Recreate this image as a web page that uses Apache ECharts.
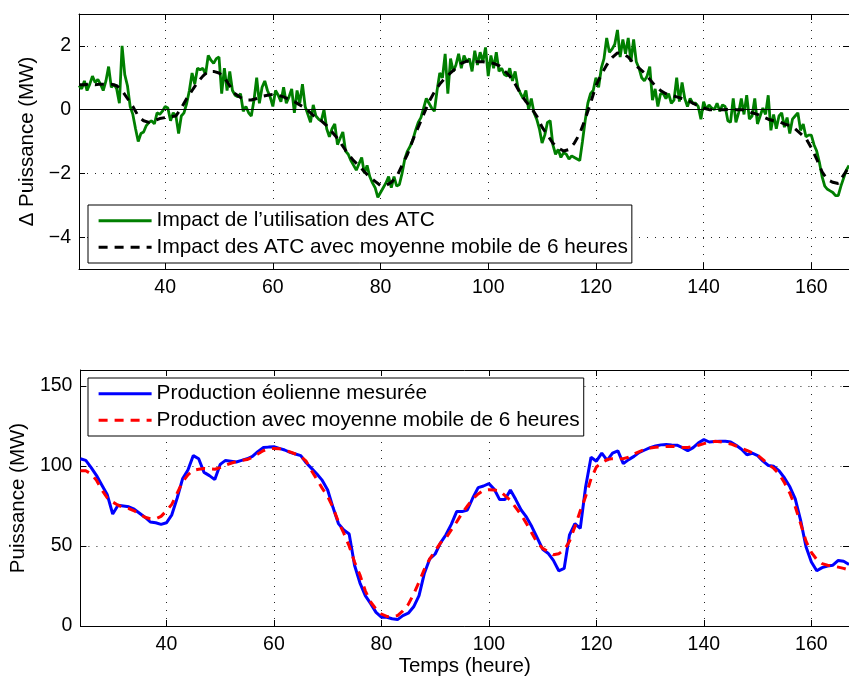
<!DOCTYPE html>
<html>
<head>
<meta charset="utf-8">
<script src="https://cdn.jsdelivr.net/npm/echarts@6/dist/echarts.min.js"></script>
<style>
html, body { margin: 0; padding: 0; background: #fff; }
#charts { width: 849px; height: 679px; }
</style>
</head>
<body>
<div id="charts"></div>
<script>
// heures de départ, pas des séries
var hourStart = 24;
var xTicks = [40, 60, 80, 100, 120, 140, 160];
var deltaTicks = [-4, -2, 0, 2];
var powerTicks = [0, 50, 100, 150];

// Impact de l'utilisation des ATC (MW), une valeur par demi-heure depuis 24 h
var impactATC = [
  0.75,0.65,0.9,0.6,0.8,1.05,0.85,0.95,0.8,0.6,
  0.9,1.35,0.7,0.8,0.65,0.2,2.0,1.1,0.75,0.1,
  -0.15,-0.6,-1.0,-0.75,-0.7,-0.5,-0.4,-0.35,-0.45,-0.1,
  -0.15,-0.05,0.1,0.05,-0.35,-0.1,-0.2,-0.75,-0.2,-0.1,
  0.2,0.6,1.15,0.8,1.3,1.25,1.3,1.1,1.7,1.55,
  1.45,1.6,1.65,0.5,1.3,0.6,1.2,0.6,0.45,0.4,
  0.5,-0.05,0.1,-0.1,-0.2,0.3,1.0,0.2,0.7,0.9,
  0.6,0.4,0.1,0.6,0.45,0.25,0.7,0.2,0.4,0.65,
  -0.1,0.6,0.2,0.8,0.1,-0.15,-0.4,0.15,-0.2,-0.3,
  -0.35,0.0,-0.6,-0.85,-0.6,-0.45,-1.1,-0.9,-0.7,-1.3,
  -1.4,-1.6,-1.75,-1.9,-1.7,-1.5,-2.0,-1.75,-2.1,-2.3,
  -2.45,-2.75,-2.6,-2.45,-2.3,-2.1,-2.45,-2.1,-2.4,-2.35,
  -2.0,-1.55,-1.3,-1.15,-0.95,-0.65,-0.4,-0.25,0.05,0.35,
  0.2,0.05,-0.05,0.6,1.15,1.0,1.75,0.5,1.6,1.2,
  1.4,1.75,1.3,1.7,1.5,1.6,1.2,1.85,1.4,1.8,
  1.5,1.95,1.05,1.7,1.3,1.8,1.2,1.3,1.1,1.05,
  1.3,0.9,1.2,0.7,0.5,0.35,0.6,0.0,0.35,-0.1,
  -0.3,-0.6,-1.05,-0.8,-0.4,-0.35,-1.1,-1.4,-1.25,-1.5,
  -1.35,-1.4,-1.55,-1.45,-1.5,-1.55,-1.6,-1.0,-0.35,0.2,
  0.5,0.6,1.0,0.7,1.3,1.6,2.25,1.8,1.9,2.05,
  2.5,1.65,2.2,1.75,2.25,1.5,2.2,1.5,1.3,1.0,
  0.9,1.05,1.35,0.3,0.65,0.1,0.5,0.5,0.35,0.5,
  0.2,0.3,1.0,0.25,0.85,0.35,0.1,0.35,0.2,0.2,
  0.1,-0.3,0.25,0.0,0.15,0.05,0.0,0.2,-0.05,0.15,
  0.1,-0.35,-0.4,0.35,-0.4,-0.1,0.35,-0.15,0.45,-0.3,
  -0.2,0.35,-0.45,-0.2,0.05,-0.15,0.45,-0.65,-0.15,-0.6,
  -0.2,-0.1,-0.55,-0.25,-0.75,-0.3,-0.2,-0.1,-0.65,-0.45,
  -0.85,-0.8,-0.8,-1.1,-1.3,-1.65,-2.1,-2.4,-2.5,-2.55,
  -2.6,-2.7,-2.7,-2.4,-2.15,-1.9,-1.75
];

// Impact des ATC, moyenne mobile 6 h (une valeur par heure)
var impactATCMoy = [
  0.78,0.78,0.8,0.78,0.8,0.8,0.8,0.75,0.6,0.35,
  0.1,-0.2,-0.35,-0.4,-0.35,-0.28,-0.25,-0.22,-0.2,0.05,
  0.35,0.6,0.85,1.05,1.2,1.2,1.15,1.0,0.75,0.5,
  0.38,0.3,0.3,0.35,0.42,0.45,0.48,0.45,0.4,0.32,
  0.25,0.15,0.05,-0.1,-0.25,-0.35,-0.5,-0.7,-0.9,-1.15,
  -1.4,-1.6,-1.76,-1.95,-2.12,-2.25,-2.38,-2.38,-2.28,-2.1,
  -1.75,-1.4,-0.95,-0.55,-0.15,0.25,0.55,0.8,1.0,1.15,
  1.3,1.45,1.52,1.52,1.5,1.5,1.48,1.45,1.38,1.22,
  1.05,0.8,0.5,0.25,0.05,-0.2,-0.55,-0.8,-1.05,-1.2,
  -1.3,-1.25,-1.05,-0.75,-0.3,0.2,0.75,1.1,1.4,1.63,
  1.78,1.75,1.65,1.45,1.3,1.15,0.95,0.75,0.6,0.5,
  0.45,0.4,0.35,0.3,0.2,0.12,0.05,0.0,0.0,0.0,
  0.0,0.02,0.0,0.0,-0.02,-0.1,-0.15,-0.22,-0.3,-0.35,
  -0.38,-0.45,-0.5,-0.6,-0.75,-0.9,-1.2,-1.55,-1.95,-2.2,
  -2.28,-2.32,-2.05,-1.8
];

// Production éolienne mesurée (MW), horaire
var prodMesuree = [
  104.5,103.5,99,94,88,82,70,75.5,75,74.5,
  73,70.5,68,65,64.5,63.5,64.5,69.5,80,92,
  97.5,106.5,104.5,96,94,91.5,101,103.5,103,102.5,
  103.5,104.5,106,109,111.5,111.8,112,111,110,108.5,
  107.5,106.5,102,98.5,95,91,85,74,64,60,
  57.5,38,27,19,14,8.5,5.5,5.5,4.5,4,
  6.5,8,12,19,33,42,45,52,57,63.5,
  71.5,71.5,72.5,80,86.5,87.5,89,85.5,79,79,
  85,79,72.5,68,62,55,48,45.5,41,34.5,
  36,57,64,61,87,105.5,103,108,103.5,108,
  109.5,101.5,104,106,108.5,110,111.5,112.5,113.2,113.5,
  113.2,113,111.5,109.5,111.5,114.5,116.5,115,115.3,115.5,
  115.5,115,113,110.5,107,108,106.5,103,100.3,99.8,
  97,92.5,87,79.5,66,49.5,40,34.5,36.5,37.5,
  38,41,40.5,38.5
];

// Production avec moyenne mobile de 6 heures (MW), horaire
var prodMoy = [
  97,97,95,91,85,80,77.5,75.5,74,73.4,
  72,70,68,67,67,68.5,72,76,83,90,
  94.5,97.3,98,98.4,98.2,98,99,100.5,101.7,102.8,
  103.5,104,105.5,107.5,109.5,110.6,111,110.8,110,108.8,
  107.5,106,103,97,91.5,86,81,74,65,58,
  50,40,32,22,15,10.5,7.5,6,6,6.5,
  9.5,13.5,20,27.5,35.5,42,47,52,55,60,
  65,70.5,75,79.5,82.5,84.8,85.2,85,84.5,81.5,
  78.6,74,69.5,64,58,52,48.5,46.5,44.5,45.2,
  47.5,53,62,72,81,92,99.4,102,104,104.6,
  104.6,104.6,105.5,107.5,109,110.5,111.3,111.7,112,112.2,
  112.3,112,111.6,111.6,112.3,113,114,114.8,115.4,115.2,
  114.5,113.8,112.5,111,109.7,108.3,106.8,104,101,98.5,
  95,89.5,83,74.5,64,53,46,41.5,39,38,
  37.5,36.8,36,35
];

function toPairs(arr, step) {
  var out = [];
  for (var i = 0; i < arr.length; i++) out.push([hourStart + i * step, arr[i]]);
  return out;
}

var FONT = 'Liberation Sans';
var minus = function (v) { return String(v).replace('-', '\u2212'); };

function xAx(gridIndex, pos, showLabel, name) {
  return {
    type: 'value', gridIndex: gridIndex, position: pos,
    min: 24, max: 167,
    name: name || '', nameLocation: 'middle', nameGap: 30,
    nameTextStyle: { color: '#000', fontSize: 20.5, fontFamily: FONT },
    axisLine: { onZero: false, lineStyle: { color: '#000', width: 1 } },
    axisTick: { inside: true, length: 6, customValues: xTicks, lineStyle: { color: '#000' } },
    axisLabel: { show: showLabel, customValues: xTicks, margin: 9, color: '#000', fontSize: 19.5, fontFamily: FONT },
    splitLine: { show: showLabel, lineStyle: { color: '#222', type: [1, 7], width: 1 } }
  };
}

function yAx(gridIndex, pos, showLabel, min, max, ticks, name, gap) {
  return {
    type: 'value', gridIndex: gridIndex, position: pos,
    min: min, max: max,
    name: name || '', nameLocation: 'middle', nameGap: gap || 0,
    nameTextStyle: { color: '#000', fontSize: 20.5, fontFamily: FONT },
    axisLine: { show: true, onZero: false, lineStyle: { color: '#000', width: 1 } },
    axisTick: { show: true, inside: true, length: 6, customValues: ticks, lineStyle: { color: '#000' } },
    axisLabel: { show: showLabel, customValues: ticks, margin: 8, color: '#000', fontSize: 19.5, fontFamily: FONT, formatter: minus },
    splitLine: { show: showLabel, lineStyle: { color: '#222', type: [1, 7], width: 1 } }
  };
}

function leg(top, names) {
  return {
    left: 88, top: top, orient: 'vertical',
    backgroundColor: '#fff', borderColor: '#000', borderWidth: 1,
    padding: [5, 4, 5, 9], itemGap: 5, itemWidth: 53, itemHeight: 14,
    itemStyle: { opacity: 0 },
    lineStyle: { width: 3.2 },
    textStyle: { color: '#000', fontSize: 20.8, fontFamily: FONT, lineHeight: 21.5 },
    data: names
  };
}

var chart = echarts.init(document.getElementById('charts'));
var option = {
  animation: false,
  backgroundColor: '#fff',
  grid: [
    { left: 79, right: 0, top: 14, height: 255 },
    { left: 79, right: 0, top: 370, height: 256 }
  ],
  legend: [
    leg(205, ['Impact de l\u2019utilisation des ATC', 'Impact des ATC avec moyenne mobile de 6 heures']),
    leg(378, ['Production \u00e9olienne mesur\u00e9e', 'Production avec moyenne mobile de 6 heures'])
  ],
  xAxis: [
    xAx(0, 'bottom', true),
    xAx(1, 'bottom', true, 'Temps (heure)'),
    xAx(0, 'top', false),
    xAx(1, 'top', false)
  ],
  yAxis: [
    yAx(0, 'left', true, -5, 3, deltaTicks, '\u0394 Puissance (MW)', 30),
    yAx(1, 'left', true, 0, 160, powerTicks, 'Puissance (MW)', 42),
    yAx(0, 'right', false, -5, 3, deltaTicks),
    yAx(1, 'right', false, 0, 160, powerTicks)
  ],
  series: [
    {
      name: 'Impact de l\u2019utilisation des ATC', type: 'line',
      xAxisIndex: 0, yAxisIndex: 0, symbol: 'none',
      data: toPairs(impactATC, 0.5),
      lineStyle: { color: '#007f00', width: 2.8 }, itemStyle: { color: '#007f00' },
      markLine: {
        silent: true, symbol: 'none', label: { show: false },
        lineStyle: { color: '#000', width: 1, type: 'solid' },
        data: [{ yAxis: 0 }]
      }
    },
    {
      name: 'Impact des ATC avec moyenne mobile de 6 heures', type: 'line',
      xAxisIndex: 0, yAxisIndex: 0, symbol: 'none',
      data: toPairs(impactATCMoy, 1),
      lineStyle: { color: '#000', width: 3, type: [9, 7] }, itemStyle: { color: '#000' }
    },
    {
      name: 'Production \u00e9olienne mesur\u00e9e', type: 'line',
      xAxisIndex: 1, yAxisIndex: 1, symbol: 'none',
      data: toPairs(prodMesuree, 1),
      lineStyle: { color: '#0000ff', width: 3 }, itemStyle: { color: '#0000ff' }
    },
    {
      name: 'Production avec moyenne mobile de 6 heures', type: 'line',
      xAxisIndex: 1, yAxisIndex: 1, symbol: 'none',
      data: toPairs(prodMoy, 1),
      lineStyle: { color: '#ff0000', width: 3, type: [9, 7] }, itemStyle: { color: '#ff0000' }
    }
  ]
};
chart.setOption(option);
</script>
</body>
</html>
